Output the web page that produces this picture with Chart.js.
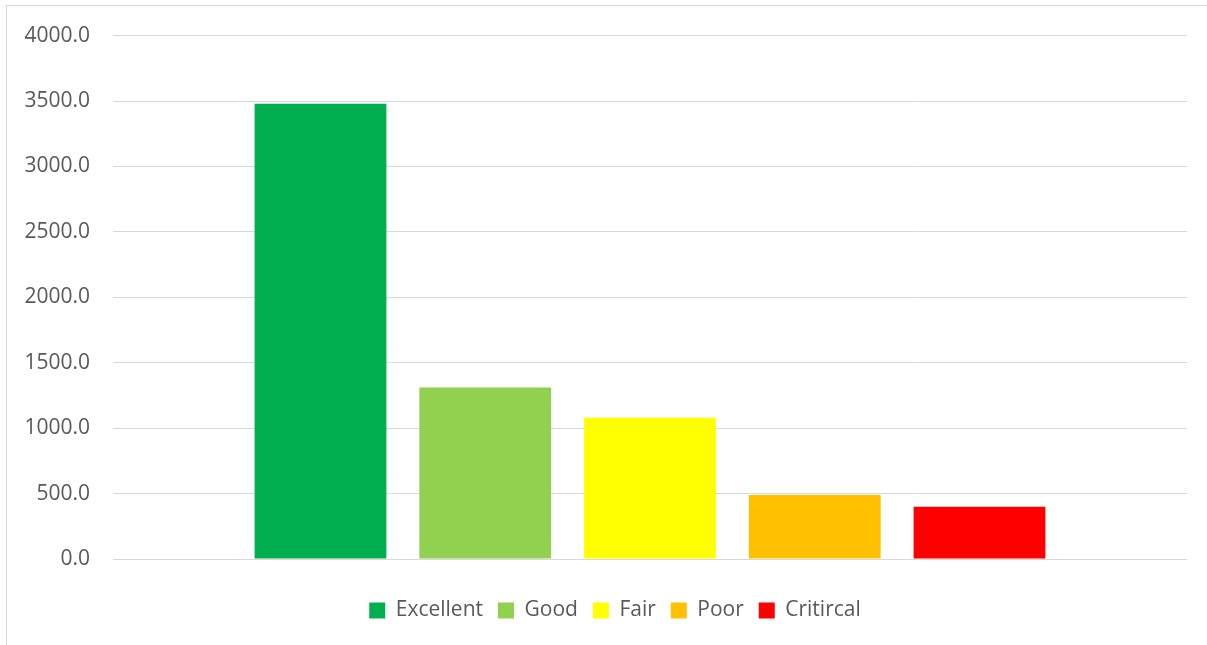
<!DOCTYPE html>
<html>
<head>
<meta charset="utf-8">
<title>Condition rating</title>
<script src="https://cdn.jsdelivr.net/npm/chart.js@4/dist/chart.umd.min.js"></script>
<style>
    html, body { margin: 0; padding: 0; background: #fff; overflow: hidden; }
    .chart-frame {
        position: absolute;
        left: 6px;
        top: 5px;
        width: 1200px;
        height: 660px;
        border: 1px solid #d9d9d9;
    }
    #conditionChart {
        position: absolute;
        left: 7px;
        top: 0;
        display: block;
    }
</style>
</head>
<body>
<div class="chart-frame"></div>
<canvas id="conditionChart" width="1200" height="656"></canvas>
<script>
var seriesNames = ['Excellent', 'Good', 'Fair', 'Poor', 'Critircal'];
var seriesValues = [3480, 1310, 1080, 490, 400];
var seriesColors = ['#00b050', '#92d050', '#ffff00', '#ffc000', '#ff0000'];
var categories = [''];
var yMin = 0, yMax = 4000, yStep = 500;

var fontFamily = '"Open Sans", "Noto Sans", sans-serif';
var textColor = '#595959';

var datasets = seriesNames.map(function (name, i) {
    return {
        label: name,
        data: [seriesValues[i]],
        backgroundColor: seriesColors[i],
        borderWidth: 0,
        categoryPercentage: 0.767,
        barPercentage: 0.8
    };
});

// nudge the legend row a little to the right of the canvas centre
var legendShift = {
    id: 'legendShift',
    afterLayout: function (chart) {
        chart.legend.left += 18;
        chart.legend.right += 18;
    }
};

new Chart(document.getElementById('conditionChart'), {
    type: 'bar',
    data: {
        labels: categories,
        datasets: datasets
    },
    plugins: [legendShift],
    options: {
        responsive: false,
        animation: false,
        layout: {
            padding: { top: 0, right: 20, bottom: 25, left: 0 }
        },
        plugins: {
            tooltip: { enabled: false },
            legend: {
                position: 'bottom',
                labels: {
                    boxWidth: 16,
                    boxHeight: 16,
                    padding: 15,
                    color: textColor,
                    font: { family: fontFamily, size: 21 }
                }
            }
        },
        scales: {
            x: {
                grid: { display: false },
                border: { display: false },
                ticks: { display: false },
                afterFit: function (scale) { scale.height = 26; }
            },
            y: {
                min: yMin,
                max: yMax,
                grid: { color: '#d9d9d9', lineWidth: 1, drawTicks: false },
                border: { display: false },
                ticks: {
                    stepSize: yStep,
                    padding: 23,
                    color: textColor,
                    font: { family: fontFamily, size: 21 },
                    callback: function (v) { return v.toFixed(1); }
                },
                afterFit: function (scale) { scale.width = 106; }
            }
        }
    }
});
</script>
</body>
</html>
